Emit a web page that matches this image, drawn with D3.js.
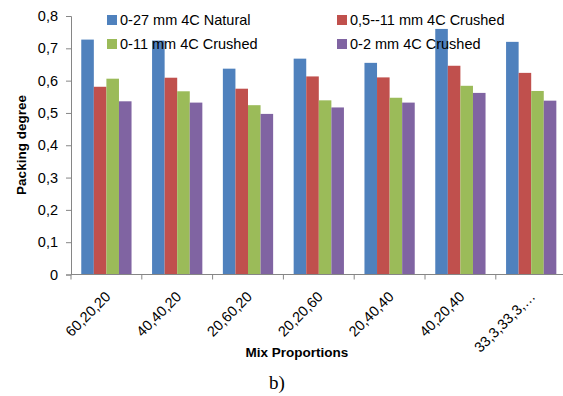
<!DOCTYPE html>
<html><head><meta charset="utf-8">
<script src="https://cdn.jsdelivr.net/npm/d3@7/dist/d3.min.js"></script>
<style>body{margin:0;background:#fff}svg{display:block}</style>
</head><body>
<script>
const categories = ["60,20,20","40,40,20","20,60,20","20,20,60","20,40,40","40,20,40","33,3,33,3,…"];
const seriesNames = ["0-27 mm 4C Natural","0,5--11 mm 4C Crushed","0-11 mm 4C Crushed","0-2 mm 4C Crushed"];
const natural027 = [0.727,0.724,0.637,0.668,0.655,0.760,0.720];
const crushed0511 = [0.581,0.609,0.575,0.613,0.610,0.646,0.624];
const crushed011 = [0.606,0.567,0.524,0.539,0.547,0.584,0.568];
const crushed02 = [0.536,0.532,0.497,0.517,0.532,0.562,0.538];
const yTicks = [0,0.1,0.2,0.3,0.4,0.5,0.6,0.7,0.8];
const colors = ["#4F81BD","#C0504D","#9BBB59","#8064A2"];
const seriesValues = [natural027, crushed0511, crushed011, crushed02];

(function(){
const W=563,H=396;
const svg=d3.select("body").append("svg").attr("width",W).attr("height",H);
const font="'Liberation Sans', Arial, sans-serif";
const pL=71, pR=566.6, pT=16, pB=274.5;
const x=d3.scaleBand().domain(categories).range([pL,pR]).paddingInner(0.29).paddingOuter(0.145);
const xs=d3.scaleBand().domain(d3.range(4)).range([0,x.bandwidth()]);
const y=d3.scaleLinear().domain([0,0.8]).range([pB,pT]);

const g=svg.append("g");
seriesValues.forEach((vals,si)=>{
  g.selectAll(null).data(vals).enter().append("rect")
   .attr("x",(d,i)=>x(categories[i])+xs(si))
   .attr("width",xs.bandwidth())
   .attr("y",d=>y(d)).attr("height",d=>y(0)-y(d))
   .attr("fill",colors[si]);
});

const ya=svg.append("g").attr("transform",`translate(${pL},0)`)
  .call(d3.axisLeft(y).tickValues(yTicks).tickSize(5).tickPadding(8)
    .tickFormat(d=>d===0?"0":d3.format(".1f")(d).replace(".",",")));
ya.select(".domain").attr("stroke","#868686");
ya.selectAll(".tick line").attr("stroke","#868686");
ya.selectAll("text").attr("font-family",font).attr("font-size","14.5px").attr("fill","#000");

const xa=svg.append("g").attr("transform",`translate(0,${pB})`);
xa.append("line").attr("x1",pL).attr("x2",pR).attr("stroke","#868686");
d3.range(categories.length+1).forEach(i=>{
  const xp=pL+i*(pR-pL)/categories.length;
  xa.append("line").attr("x1",xp).attr("x2",xp).attr("y1",0).attr("y2",5).attr("stroke","#868686");
});
xa.selectAll(null).data(categories).enter().append("text")
  .attr("transform",d=>`translate(${x(d)+x.bandwidth()/2+5},${23}) rotate(-45)`)
  .attr("text-anchor","end")
  .attr("font-family",font).attr("font-size","14.5px").text(d=>d);

svg.append("text").attr("transform","translate(26,145) rotate(-90)").attr("text-anchor","middle")
  .attr("font-family",font).attr("font-weight","bold").attr("font-size","13.5px").text("Packing degree");
svg.append("text").attr("x",297).attr("y",357).attr("text-anchor","middle")
  .attr("font-family",font).attr("font-weight","bold").attr("font-size","13.5px").text("Mix Proportions");
svg.append("text").attr("x",277).attr("y",389).attr("text-anchor","middle")
  .attr("font-family","'Liberation Serif', 'Times New Roman', serif").attr("font-size","19px").text("b)");

const legPos=[[107,20],[337,20],[107,44],[337,44]];
seriesNames.forEach((n,i)=>{
  const [lx,ly]=legPos[i];
  svg.append("rect").attr("x",lx).attr("y",ly-5).attr("width",10).attr("height",10).attr("fill",colors[i]);
  svg.append("text").attr("x",lx+13).attr("y",ly+5).attr("font-family",font).attr("font-size","14.5px").text(n);
});
})();
</script>
</body></html>
